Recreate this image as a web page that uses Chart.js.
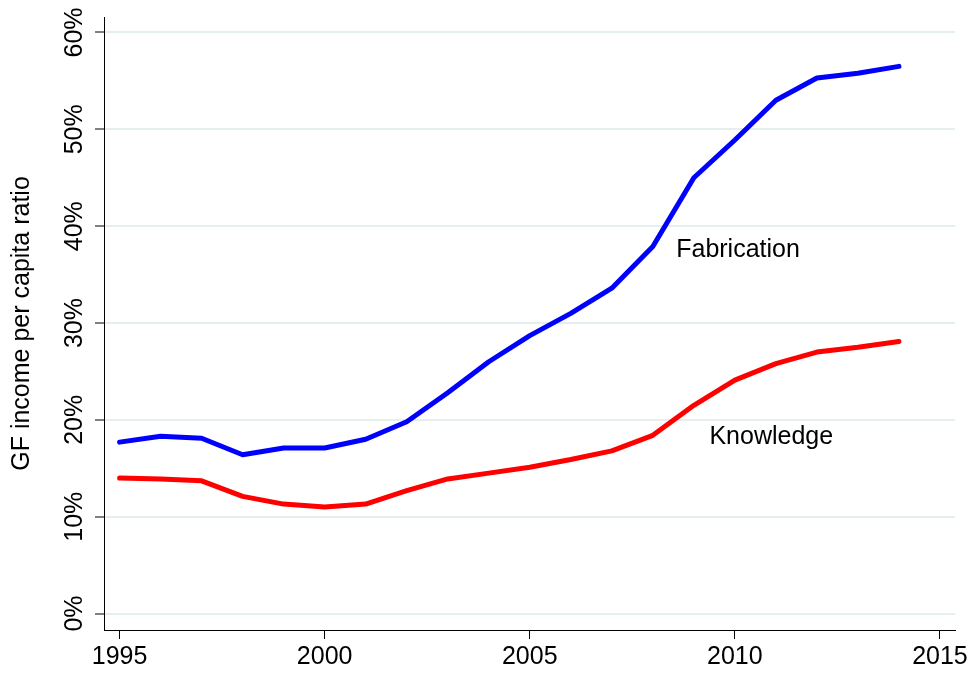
<!DOCTYPE html>
<html>
<head>
<meta charset="utf-8">
<script src="https://cdn.jsdelivr.net/npm/chart.js@4/dist/chart.umd.min.js"></script>
<style>
  html, body { margin: 0; padding: 0; background: #ffffff; }
  #wrap { width: 971px; height: 674px; }
</style>
</head>
<body>
<div id="wrap"><canvas id="c" width="971" height="674"></canvas></div>
<script>
// ---- data ----
const years = [1995, 1996, 1997, 1998, 1999, 2000, 2001, 2002, 2003, 2004, 2005, 2006, 2007, 2008, 2009, 2010, 2011, 2012, 2013, 2014];
const fabrication = [17.7, 18.3, 18.1, 16.4, 17.1, 17.1, 18.0, 19.8, 22.8, 26.0, 28.7, 31.0, 33.6, 37.9, 45.0, 48.9, 53.0, 55.3, 55.8, 56.5];
const knowledge = [14.0, 13.9, 13.7, 12.1, 11.3, 11.0, 11.3, 12.7, 13.9, 14.5, 15.1, 15.9, 16.8, 18.4, 21.5, 24.1, 25.8, 27.0, 27.5, 28.1];
const xTicks = [1995, 2000, 2005, 2010, 2015];
const yTicks = [0, 10, 20, 30, 40, 50, 60];
const yTitle = 'GF income per capita ratio';
const seriesLabels = [
  { text: 'Fabrication', x: 2008.57, y: 37.5 },
  { text: 'Knowledge', x: 2009.38, y: 18.2 }
];

const FONT = '"Liberation Sans", Arial, Helvetica, sans-serif';
const FSIZE = 25;

const toPts = (arr) => arr.map((v, i) => ({ x: years[i], y: v }));

const labelPlugin = {
  id: 'customLabels',
  afterDraw(chart) {
    const ctx = chart.ctx;
    const xs = chart.scales.x, ys = chart.scales.y;
    ctx.save();
    ctx.fillStyle = '#000000';
    ctx.font = FSIZE + 'px ' + FONT;
    // rotated y tick labels
    ctx.textAlign = 'center';
    ctx.textBaseline = 'middle';
    yTicks.forEach(v => {
      ctx.save();
      ctx.translate(75, ys.getPixelForValue(v));
      ctx.rotate(-Math.PI / 2);
      ctx.fillText(v + '%', 0, 0);
      ctx.restore();
    });
    // series labels
    ctx.textAlign = 'left';
    seriesLabels.forEach(l => {
      ctx.fillText(l.text, xs.getPixelForValue(l.x), ys.getPixelForValue(l.y));
    });
    ctx.restore();
  }
};

new Chart(document.getElementById('c'), {
  type: 'line',
  data: {
    datasets: [
      { label: 'Fabrication', data: toPts(fabrication), borderColor: '#0000ff', backgroundColor: '#0000ff',
        borderWidth: 5, pointRadius: 0, borderCapStyle: 'round', borderJoinStyle: 'round', tension: 0 },
      { label: 'Knowledge', data: toPts(knowledge), borderColor: '#ff0000', backgroundColor: '#ff0000',
        borderWidth: 5, pointRadius: 0, borderCapStyle: 'round', borderJoinStyle: 'round', tension: 0 }
    ]
  },
  options: {
    responsive: false,
    animation: false,
    devicePixelRatio: 1,
    layout: { padding: { left: 0, right: 13, top: 17, bottom: 0 } },
    plugins: { legend: { display: false }, tooltip: { enabled: false } },
    scales: {
      x: {
        type: 'linear',
        min: 1994.62,
        max: 2015.37,
        afterBuildTicks: (s) => { s.ticks = xTicks.map(v => ({ value: v })); },
        afterFit: (s) => { s.height = 44; },
        border: { display: true, color: '#000000', width: 1 },
        grid: { display: true, drawOnChartArea: false, drawTicks: true, tickLength: 9, tickColor: '#000000', tickWidth: 1 },
        ticks: { color: '#000000', font: { family: FONT, size: FSIZE }, padding: 3, maxRotation: 0, minRotation: 0,
                 callback: (v) => String(v) }
      },
      y: {
        type: 'linear',
        min: -1.7,
        max: 61.6,
        afterBuildTicks: (s) => { s.ticks = yTicks.map(v => ({ value: v })); },
        afterFit: (s) => { s.width = 104; },
        border: { display: true, color: '#000000', width: 1 },
        grid: { display: true, drawOnChartArea: true, color: '#e6eff0', lineWidth: 2, drawTicks: true, tickLength: 9, tickColor: '#000000', tickWidth: 1 },
        ticks: { display: false },
        title: { display: true, text: yTitle, color: '#000000', font: { family: FONT, size: FSIZE }, padding: { top: 7, bottom: 0 } }
      }
    }
  },
  plugins: [labelPlugin]
});
</script>
</body>
</html>
